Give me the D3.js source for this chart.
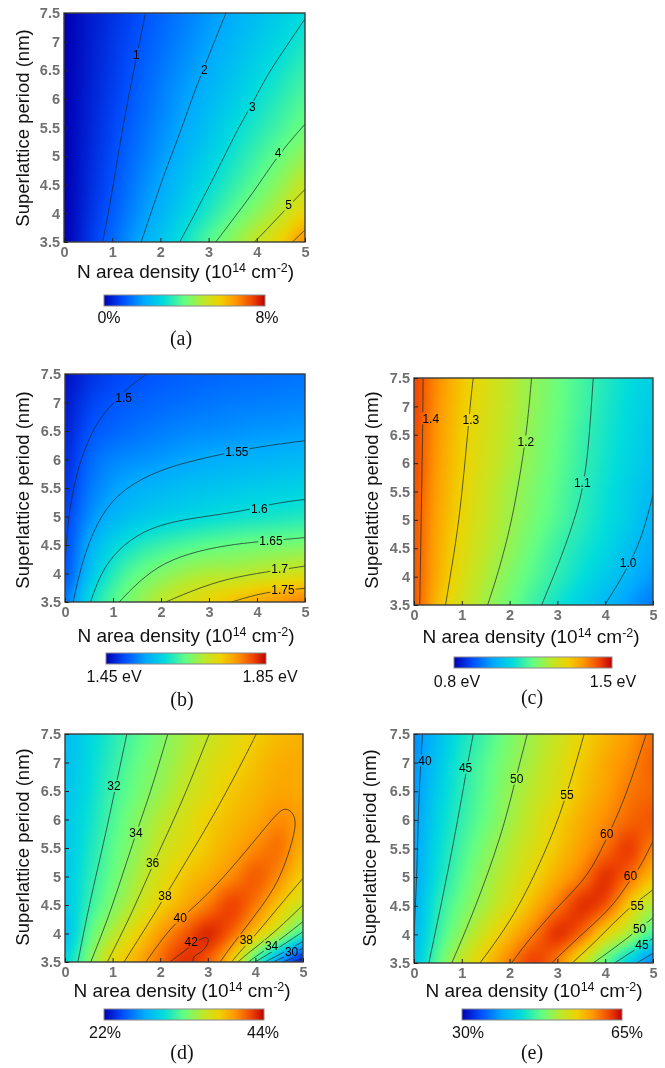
<!DOCTYPE html>
<html>
<head>
<meta charset="utf-8">
<script src="https://cdn.jsdelivr.net/npm/d3@7"></script>
<style>
  html, body { margin: 0; padding: 0; background: #fff; }
  svg { display: block; filter: blur(0.35px); }
</style>
</head>
<body>
<svg></svg>
<script>
const xTicks = [0, 1, 2, 3, 4, 5]
const yTicks = [3.5, 4, 4.5, 5, 5.5, 6, 6.5, 7, 7.5]
const gridX = [0, 0.5, 1, 1.5, 2, 2.5, 3, 3.5, 4, 4.5, 5]
const gridY = [3.5, 4, 4.5, 5, 5.5, 6, 6.5, 7, 7.5]

const colorStops = [0, 0.12, 0.25, 0.37, 0.5, 0.62, 0.72, 0.82, 0.92, 1]
const colorValues = ['#0000b4', '#0050ff', '#00aaff', '#00dcdc', '#64ff82', '#bee828', '#f0d200', '#ff9600', '#f04600', '#be0000']

// rows run from y = 3.5 up to y = 7.5, columns from x = 0 to x = 5
const gridA = [
  [0, 0.62, 1.25, 1.88, 2.5, 3.13, 3.8, 4.44, 5.06, 5.75, 6.6],
  [0, 0.54, 1.09, 1.66, 2.2, 2.76, 3.31, 3.89, 4.44, 5, 5.7],
  [0, 0.49, 0.98, 1.5, 2, 2.49, 2.97, 3.46, 3.96, 4.5, 5.08],
  [0, 0.45, 0.9, 1.35, 1.8, 2.25, 2.7, 3.15, 3.6, 4.06, 4.5],
  [0, 0.41, 0.82, 1.23, 1.64, 2.04, 2.45, 2.9, 3.3, 3.68, 4.08],
  [0, 0.38, 0.75, 1.13, 1.51, 1.89, 2.26, 2.64, 3.04, 3.41, 3.78],
  [0, 0.35, 0.69, 1.04, 1.39, 1.74, 2.08, 2.43, 2.79, 3.14, 3.5],
  [0, 0.32, 0.64, 0.96, 1.28, 1.6, 1.92, 2.24, 2.56, 2.88, 3.2],
  [0, 0.3, 0.59, 0.89, 1.19, 1.49, 1.79, 2.08, 2.38, 2.67, 2.95]
]
const gridB = [
  [1.52, 1.597, 1.64, 1.67, 1.697, 1.716, 1.733, 1.751, 1.765, 1.778, 1.79],
  [1.5, 1.57, 1.617, 1.647, 1.665, 1.68, 1.69, 1.692, 1.7, 1.708, 1.716],
  [1.495, 1.553, 1.59, 1.612, 1.627, 1.637, 1.645, 1.651, 1.656, 1.659, 1.662],
  [1.49, 1.533, 1.56, 1.575, 1.585, 1.592, 1.598, 1.604, 1.608, 1.612, 1.616],
  [1.48, 1.52, 1.543, 1.556, 1.563, 1.569, 1.574, 1.578, 1.582, 1.585, 1.588],
  [1.475, 1.51, 1.528, 1.535, 1.541, 1.548, 1.553, 1.556, 1.559, 1.562, 1.565],
  [1.47, 1.498, 1.51, 1.518, 1.524, 1.53, 1.533, 1.536, 1.539, 1.541, 1.543],
  [1.465, 1.488, 1.5, 1.507, 1.512, 1.516, 1.52, 1.523, 1.525, 1.527, 1.529],
  [1.46, 1.478, 1.49, 1.497, 1.503, 1.507, 1.51, 1.513, 1.515, 1.517, 1.519]
]
const gridC = [
  [1.43, 1.33, 1.26, 1.205, 1.16, 1.115, 1.075, 1.037, 1, 0.962, 0.925],
  [1.43, 1.345, 1.275, 1.222, 1.175, 1.135, 1.1, 1.063, 1.027, 0.993, 0.958],
  [1.43, 1.35, 1.285, 1.235, 1.192, 1.15, 1.112, 1.08, 1.05, 1.01, 0.98],
  [1.43, 1.355, 1.295, 1.245, 1.203, 1.165, 1.13, 1.095, 1.062, 1.03, 0.99],
  [1.435, 1.36, 1.302, 1.25, 1.208, 1.172, 1.138, 1.1, 1.068, 1.035, 1.003],
  [1.44, 1.365, 1.307, 1.26, 1.219, 1.18, 1.145, 1.108, 1.075, 1.045, 1.015],
  [1.44, 1.37, 1.31, 1.265, 1.225, 1.185, 1.15, 1.112, 1.08, 1.05, 1.022],
  [1.445, 1.375, 1.315, 1.27, 1.23, 1.19, 1.155, 1.12, 1.085, 1.055, 1.03],
  [1.445, 1.38, 1.32, 1.272, 1.232, 1.192, 1.157, 1.122, 1.09, 1.06, 1.035]
]
const gridD = [
  [30, 33.7, 37.3, 39.2, 41.2, 42.8, 41.6, 38, 32, 27, 22.5],
  [28.5, 32.6, 35.3, 37.6, 39.8, 41.6, 43, 41.4, 38.2, 35.2, 31.7],
  [29, 31.6, 33.8, 35.8, 37.8, 39.3, 40.8, 42.3, 40.8, 38.2, 36],
  [29, 31.2, 33.1, 35, 36.8, 38.3, 39.2, 40.4, 41.6, 40.2, 37.9],
  [29, 30.8, 32.7, 34.3, 36, 37.2, 38.3, 39.3, 40.4, 41, 39],
  [29, 30.5, 32.3, 33.9, 35.4, 36.6, 37.9, 38.7, 39.4, 40.3, 39.7],
  [28.8, 30.2, 31.9, 33.3, 34.5, 35.9, 37, 38.2, 38.9, 39.5, 39.3],
  [28.6, 30, 31.5, 32.9, 34.1, 35.3, 36.6, 37.5, 38.5, 39.2, 39.3],
  [28.4, 29.8, 31.2, 32.5, 33.7, 34.9, 35.9, 37, 37.95, 38.7, 39.1]
]
const gridE = [
  [41, 47, 52, 56, 59.7, 62.5, 59.5, 53, 47, 41.7, 36.5],
  [40, 45.5, 49.6, 53.3, 56.8, 60, 63, 60.5, 54.6, 50.4, 45.7],
  [39.5, 44.7, 48, 50.8, 53.8, 57, 60.2, 63, 61.5, 55.5, 50.7],
  [39, 43.5, 46.9, 49.9, 52.3, 55, 57.5, 60, 63, 60.5, 56.3],
  [38.7, 42.9, 46.1, 48.8, 51.3, 53.6, 56, 58.2, 60.5, 62.6, 59.5],
  [38.3, 42.3, 45.3, 47.7, 50.2, 52.6, 55.2, 57.3, 59.1, 60.8, 61.5],
  [38, 41.7, 44.8, 47.2, 49.7, 51.8, 53.8, 56.2, 58.1, 60, 60.8],
  [37.7, 41, 44.4, 46.8, 49, 51, 53.2, 55.7, 57.6, 59.2, 61],
  [37.3, 40.5, 43.7, 46, 48.5, 50.5, 52.5, 54.8, 56.8, 58.5, 60.5]
]

// contour lines as [N density, period] pairs
const linesA = [
  [[0.8,3.5],[0.92,4],[1.02,4.5],[1.12,5],[1.22,5.5],[1.33,6],[1.45,6.5],[1.57,7],[1.69,7.5]],
  [[1.6,3.5],[1.8,4],[2,4.5],[2.22,5],[2.45,5.5],[2.65,6],[2.88,6.5],[3.12,7],[3.36,7.5]],
  [[2.4,3.5],[2.72,4],[3.03,4.5],[3.33,5],[3.62,5.5],[3.9,5.9],[4.2,6.4],[4.6,6.9],[5,7.4]],
  [[3.15,3.5],[3.6,4],[4,4.45],[4.45,5.03],[5,5.56]],
  [[3.95,3.5],[4.3,3.8],[4.65,4.12],[5,4.42]],
  [[4.74,3.5],[5,3.71]]
]
const linesB = [
  [[0,4.2],[0.07,5],[0.18,5.5],[0.32,6],[0.63,6.63],[1.01,7],[1.36,7.3],[1.71,7.5]],
  [[0.17,3.5],[0.35,4.2],[0.66,4.9],[1.08,5.4],[1.77,5.75],[2.5,5.95],[3.3,6.1],[4,6.22],[5,6.33]],
  [[0.53,3.5],[0.74,4],[1.08,4.41],[1.64,4.76],[2.33,4.93],[3.09,5.02],[3.79,5.11],[4.34,5.23],[5,5.3]],
  [[1.13,3.5],[1.43,3.77],[1.91,4.12],[2.54,4.35],[3.37,4.5],[4.06,4.56],[5,4.63]],
  [[2.1,3.5],[2.68,3.71],[3.37,3.91],[4.2,4.03],[5,4.13]],
  [[3.47,3.5],[3.86,3.6],[4.27,3.68],[5,3.74]]
]
const linesC = [
  [[0.12,3.5],[0.14,4.5],[0.16,5.5],[0.18,6.5],[0.19,7.5]],
  [[0.66,3.5],[0.78,4.12],[0.96,5.06],[1.13,6.59],[1.2,7.23],[1.24,7.5]],
  [[1.54,3.5],[1.76,4.06],[2.04,4.94],[2.25,5.94],[2.37,6.65],[2.46,7.5]],
  [[2.67,3.5],[3.09,4.35],[3.4,5.12],[3.54,5.59],[3.65,6.23],[3.75,7.5]],
  [[3.99,3.5],[4.41,4.06],[4.76,4.65],[5,5.44]]
]
const linesD = [
  [[0.27,3.5],[0.53,4.59],[0.81,5.58],[1.02,6.4],[1.3,7.5]],
  [[0.54,3.5],[0.95,4.35],[1.44,5.64],[1.79,6.45],[2.16,7.5]],
  [[0.89,3.5],[1.44,4.41],[1.89,5.3],[2.42,6.22],[3.03,7.5]],
  [[1.24,3.5],[1.93,4.41],[2.56,5.29],[3.11,6.05],[3.67,6.92],[4.02,7.5]],
  [[1.7,3.5],[2.07,3.94],[2.4,4.25],[3.04,4.7],[3.88,5.52],[4.44,6.1],[4.64,6.23],[4.88,6.05],[4.79,5.64],[4.58,5.11],[4.34,4.71],[3.92,4.24],[3.43,3.71],[3.26,3.5]],
  [[2.2,3.5],[2.6,3.75],[2.9,3.95],[3.06,3.92],[2.92,3.68],[2.7,3.62],[2.68,3.5]],
  [[5,4.97],[4.55,4.53],[4.03,4],[3.61,3.62],[3.5,3.5]],
  [[5,4.5],[4.34,3.97],[3.85,3.66],[3.63,3.5]],
  [[5,4.21],[4.52,3.89],[4.05,3.62],[3.85,3.5]],
  [[5,4.03],[4.58,3.8],[4.2,3.6],[3.99,3.5]],
  [[5,3.86],[4.62,3.68],[4.2,3.5]],
  [[5,3.74],[4.37,3.5]],
  [[5,3.64],[4.58,3.5]],
  [[5,3.56],[4.79,3.5]]
]
const linesE = [
  [[0,4],[0.06,5],[0.09,6.2],[0.15,7.15],[0.18,7.5]],
  [[0.31,3.5],[0.65,4.84],[0.93,6.06],[1.1,6.88],[1.24,7.5]],
  [[0.79,3.5],[1.27,4.43],[1.83,5.72],[2.11,6.66],[2.37,7.5]],
  [[1.38,3.5],[2.11,4.32],[2.74,5.42],[3.15,6.29],[3.56,7.5]],
  [[2.04,3.5],[2.46,3.97],[3.08,4.55],[3.64,5.01],[3.99,5.6],[4.41,6.35],[4.86,7.5]],
  [[2.88,3.5],[3.43,3.94],[3.85,4.25],[4.2,4.55],[4.41,4.81],[4.6,5.03],[4.78,5.25],[5,5.63]],
  [[3.31,3.5],[3.92,3.97],[4.4,4.4],[5,4.78]],
  [[3.75,3.5],[4.34,3.85],[5,4.29]],
  [[4.2,3.5],[4.6,3.72],[5,3.93]],
  [[4.66,3.5],[5,3.67]]
]

const labelsA = [['1',1.5,6.78],['2',2.91,6.51],['3',3.91,5.86],['4',4.44,5.06],['5',4.66,4.15]]
const labelsB = [['1.5',1.22,7.08],['1.55',3.58,6.13],['1.6',4.05,5.14],['1.65',4.29,4.57],['1.7',4.47,4.08],['1.75',4.54,3.72]]
const labelsC = [['1.4',0.35,6.79],['1.3',1.19,6.76],['1.2',2.34,6.38],['1.1',3.52,5.66],['1.0',4.48,4.25]]
const labelsD = [['32',1.03,6.59],['34',1.49,5.77],['36',1.84,5.24],['38',2.1,4.66],['40',2.42,4.28],['42',2.65,3.86],['38',3.81,3.89],['34',4.34,3.78],['30',4.76,3.68]]
const labelsE = [['40',0.23,7.04],['45',1.08,6.91],['50',2.15,6.72],['55',3.2,6.44],['60',4.03,5.76],['60',4.53,5.03],['55',4.67,4.5],['50',4.72,4.1],['45',4.77,3.82]]

const width = 665
const height = 1068
const svg = d3.select('svg').attr('width', width).attr('height', height)
const defs = svg.append('defs')

const colorScale = d3.scaleLinear().domain(colorStops).range(colorValues).clamp(true)

const gradient = defs.append('linearGradient').attr('id', 'jetbar')
colorStops.forEach((s, i) => {
  gradient.append('stop').attr('offset', s).attr('stop-color', colorValues[i])
})

const cubic = (a, b, c, d, t) =>
  b + 0.5 * t * (c - a + t * (2 * a - 5 * b + 4 * c - d + t * (3 * (b - c) + d - a)))

const sampleGrid = (grid, x, y) => {
  const nx = gridX.length, ny = gridY.length
  const fx = Math.max(0, Math.min(nx - 1.001, (x - gridX[0]) / (gridX[1] - gridX[0])))
  const fy = Math.max(0, Math.min(ny - 1.001, (y - gridY[0]) / (gridY[1] - gridY[0])))
  const ix = Math.floor(fx), iy = Math.floor(fy)
  const at = (r, c) => grid[Math.max(0, Math.min(ny - 1, r))][Math.max(0, Math.min(nx - 1, c))]
  const row = r => cubic(at(r, ix - 1), at(r, ix), at(r, ix + 1), at(r, ix + 2), fx - ix)
  return cubic(row(iy - 1), row(iy), row(iy + 1), row(iy + 2), fy - iy)
}

const superText = (sel, parts) => {
  parts.forEach(([txt, sup]) => {
    const t = sel.append('tspan').text(txt)
    if (sup) t.attr('font-size', 12.5).attr('baseline-shift', '6')
  })
}

const drawPanel = (p) => {
  const innerWidth = p.right - p.left
  const innerHeight = p.bottom - p.top

  const xScale = d3.scaleLinear().domain([0, 5]).range([0, innerWidth])
  const yScale = d3.scaleLinear().domain([3.5, 7.5]).range([innerHeight, 0])
  const tScale = d3.scaleLinear().domain(p.domain).range([0, 1])

  const g = svg.append('g').attr('transform', `translate(${p.left},${p.top})`)

  // heat map goes through an offscreen canvas, blurred copy on top to hide the grid
  const canvas = document.createElement('canvas')
  canvas.width = innerWidth
  canvas.height = innerHeight
  const ctx = canvas.getContext('2d')
  for (let py = 0; py < innerHeight; py++) {
    for (let px = 0; px < innerWidth; px++) {
      const v = sampleGrid(p.grid, xScale.invert(px + 0.5), yScale.invert(py + 0.5))
      ctx.fillStyle = colorScale(tScale(v))
      ctx.fillRect(px, py, 1, 1)
    }
  }
  ctx.filter = 'blur(3px)'
  ctx.drawImage(canvas, 0, 0)
  ctx.filter = 'none'
  g.append('image')
    .attr('width', innerWidth)
    .attr('height', innerHeight)
    .attr('href', canvas.toDataURL())

  const mask = defs.append('mask')
    .attr('id', 'gaps' + p.name)
    .attr('maskUnits', 'userSpaceOnUse')
    .attr('x', 0).attr('y', 0)
    .attr('width', innerWidth).attr('height', innerHeight)
  mask.append('rect')
    .attr('width', innerWidth).attr('height', innerHeight)
    .attr('fill', 'white')

  const line = d3.line()
    .x(d => xScale(d[0]))
    .y(d => yScale(d[1]))
    .curve(d3.curveBasis)

  g.append('g')
    .attr('mask', `url(#gaps${p.name})`)
    .selectAll('path')
    .data(p.lines)
    .enter().append('path')
      .attr('d', line)
      .attr('fill', 'none')
      .attr('stroke', '#1c2a2a')
      .attr('stroke-opacity', 0.8)
      .attr('stroke-width', 0.9)

  const labels = g.append('g')
    .selectAll('text')
    .data(p.labels)
    .enter().append('text')
      .attr('x', d => xScale(d[1]))
      .attr('y', d => yScale(d[2]))
      .attr('dy', '0.36em')
      .attr('text-anchor', 'middle')
      .attr('font-family', 'Liberation Sans')
      .attr('font-size', 12)
      .attr('fill', '#000')
      .text(d => d[0])

  labels.each(function(d) {
    const w = this.getComputedTextLength() + 2
    mask.append('rect')
      .attr('x', xScale(d[1]) - w / 2)
      .attr('y', yScale(d[2]) - 6)
      .attr('width', w)
      .attr('height', 12)
      .attr('fill', 'black')
  })

  g.append('rect')
    .attr('width', innerWidth)
    .attr('height', innerHeight)
    .attr('fill', 'none')
    .attr('stroke', '#3c3c3c')
    .attr('stroke-width', 1.4)

  const xAxis = d3.axisBottom(xScale).tickValues(xTicks).tickSize(-4).tickPadding(5).tickFormat(d3.format('~g'))
  const yAxis = d3.axisLeft(yScale).tickValues(yTicks).tickSize(-4).tickPadding(4).tickFormat(d3.format('~g'))

  const xAxisG = g.append('g').attr('transform', `translate(0,${innerHeight})`).call(xAxis)
  const yAxisG = g.append('g').call(yAxis)
  ;[xAxisG, yAxisG].forEach(a => {
    a.select('.domain').remove()
    a.selectAll('line').attr('stroke', '#222')
    a.selectAll('text')
      .attr('font-family', 'Liberation Sans')
      .attr('font-size', 14.5)
      .attr('font-weight', 700)
      .attr('fill', '#707070')
  })

  const xTitle = svg.append('text')
    .attr('x', p.xTitle[0]).attr('y', p.xTitle[1])
    .attr('text-anchor', 'middle')
    .attr('font-family', 'Liberation Sans')
    .attr('font-size', 19)
    .attr('fill', '#111')
  superText(xTitle, [['N area density (10'], ['14', true], [' cm'], ['-2', true], [')']])

  svg.append('text')
    .attr('transform', `translate(${p.yTitle[0]},${p.yTitle[1]}) rotate(-90)`)
    .attr('text-anchor', 'middle')
    .attr('font-family', 'Liberation Sans')
    .attr('font-size', 18.5)
    .attr('fill', '#111')
    .text('Superlattice period (nm)')

  // colour bar
  svg.append('rect')
    .attr('x', p.bar[0]).attr('y', p.bar[2])
    .attr('width', p.bar[1] - p.bar[0]).attr('height', 11)
    .attr('fill', 'url(#jetbar)')
    .attr('stroke', '#8a8a8a')
    .attr('stroke-width', 1)

  svg.selectAll(null)
    .data(p.barLabels)
    .enter().append('text')
      .attr('x', d => d[1])
      .attr('y', p.bar[3])
      .attr('dy', '0.36em')
      .attr('text-anchor', 'middle')
      .attr('font-family', 'Liberation Sans')
      .attr('font-size', 16)
      .attr('fill', '#111')
      .text(d => d[0])

  svg.append('text')
    .attr('x', p.caption[0]).attr('y', p.caption[1])
    .attr('dy', '0.32em')
    .attr('text-anchor', 'middle')
    .attr('font-family', 'Liberation Serif')
    .attr('font-size', 20)
    .attr('fill', '#111')
    .text(p.caption[2])
}

drawPanel({
  name: 'a', left: 64, right: 305, top: 13, bottom: 242,
  domain: [0, 8], grid: gridA, lines: linesA, labels: labelsA,
  xTitle: [185.5, 278], yTitle: [29, 128],
  bar: [104, 265, 295, 317], barLabels: [['0%', 109], ['8%', 267]],
  caption: [181, 339, '(a)']
})
drawPanel({
  name: 'b', left: 65, right: 305, top: 374, bottom: 602,
  domain: [1.45, 1.85], grid: gridB, lines: linesB, labels: labelsB,
  xTitle: [186, 642], yTitle: [29, 490],
  bar: [106, 266, 653, 676], barLabels: [['1.45 eV', 114], ['1.85 eV', 270]],
  caption: [182, 700, '(b)']
})
drawPanel({
  name: 'c', left: 414, right: 653, top: 378, bottom: 605,
  domain: [0.8, 1.5], grid: gridC, lines: linesC, labels: labelsC,
  xTitle: [531, 643], yTitle: [378, 490],
  bar: [454, 612, 657, 681], barLabels: [['0.8 eV', 457], ['1.5 eV', 613]],
  caption: [532, 698, '(c)']
})
drawPanel({
  name: 'd', left: 65, right: 303, top: 734, bottom: 962,
  domain: [22, 44], grid: gridD, lines: linesD, labels: labelsD,
  xTitle: [182, 997], yTitle: [29, 847],
  bar: [104, 264, 1009, 1032], barLabels: [['22%', 105], ['44%', 263]],
  caption: [182, 1053, '(d)']
})
drawPanel({
  name: 'e', left: 414, right: 653, top: 734, bottom: 963,
  domain: [30, 65], grid: gridE, lines: linesE, labels: labelsE,
  xTitle: [534, 997], yTitle: [376, 848],
  bar: [462, 622, 1009, 1032], barLabels: [['30%', 468], ['65%', 627]],
  caption: [532, 1053, '(e)']
})
</script>
</body>
</html>
